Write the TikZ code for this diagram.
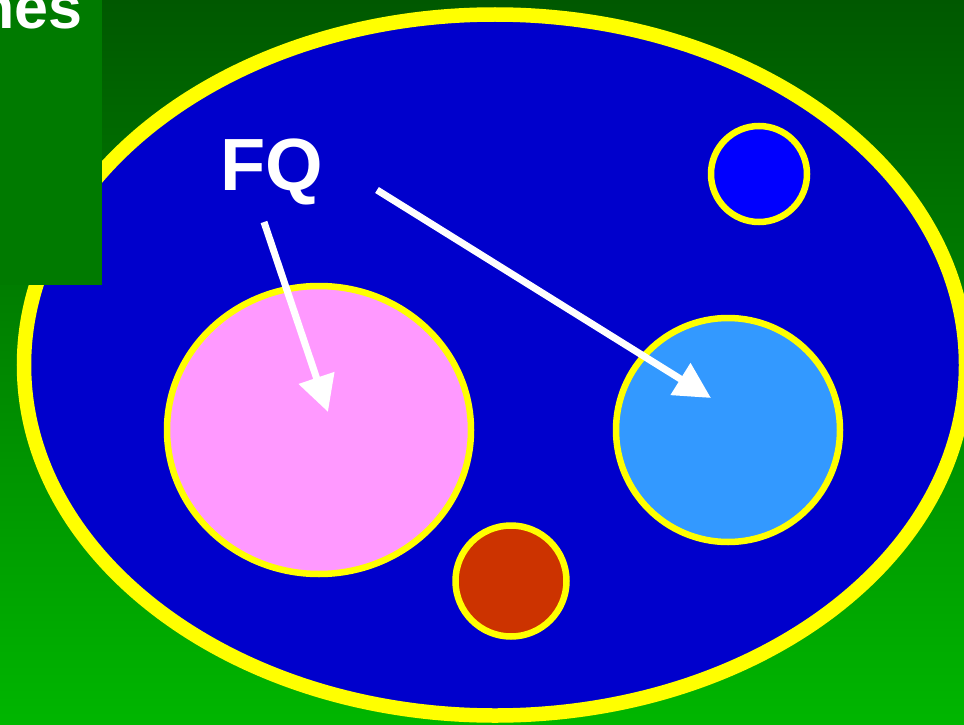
\documentclass[tikz,border=0pt]{standalone}
\usepackage{fontspec}
\setmainfont{Liberation Sans}
\usetikzlibrary{arrows.meta,shapes.geometric}

\definecolor{bgtop}{RGB}{0,88,0}
\definecolor{bgbottom}{RGB}{0,182,0}
\definecolor{titlegreen}{RGB}{0,122,0}
\definecolor{cellblue}{RGB}{0,0,204}
\definecolor{rimyellow}{RGB}{255,255,0}
\definecolor{vacpink}{RGB}{255,153,255}
\definecolor{vaclight}{RGB}{51,153,255}
\definecolor{vacblue}{RGB}{0,0,255}
\definecolor{vacred}{RGB}{204,51,0}

\begin{document}
\begin{tikzpicture}[x=1pt,y=-1pt,
    blob/.style={draw=rimyellow, line width=6.5pt, inner sep=0pt},
    pointer/.style={white, line width=7pt, -{Triangle[length=36pt,width=36pt]}}]
        \useasboundingbox (0,0) rectangle (964,725);
        \clip (0,0) rectangle (964,725);
        \shade[top color=bgtop, bottom color=bgbottom] (0,0) rectangle (964,725);

        \node[ellipse, draw=rimyellow, fill=cellblue, line width=14.5pt, inner sep=0pt,
              minimum width=942pt, minimum height=701pt] (cell) at (495,365) {};

        \fill[titlegreen] (0,0) rectangle (102,285);
        \node[anchor=base east, inner sep=0pt, text=white,
              font=\bfseries\fontsize{61}{61}\selectfont] (title) at (83,29) {nes};

        \node[ellipse, blob, fill=vacpink, minimum width=304pt, minimum height=288pt] (pink) at (319,430) {};
        \node[circle, blob, fill=vaclight, minimum size=224pt] (light) at (728,430) {};
        \node[circle, blob, fill=vacblue, minimum size=96pt] (small) at (759,174) {};
        \node[circle, blob, fill=vacred, minimum size=111pt] (red) at (511,581) {};

        \node[anchor=base west, inner sep=0pt, text=white,
              font=\bfseries\fontsize{74}{74}\selectfont] (fq) at (220,190) {FQ};

        \coordinate (fqdown) at (264,222);
        \coordinate (fqright) at (377,190);
        \coordinate (pinktip) at (328,412);
        \coordinate (lighttip) at (711,398);

        \draw[pointer] (fqdown) -- (pinktip);
        \draw[pointer] (fqright) -- (lighttip);
\end{tikzpicture}
\end{document}
